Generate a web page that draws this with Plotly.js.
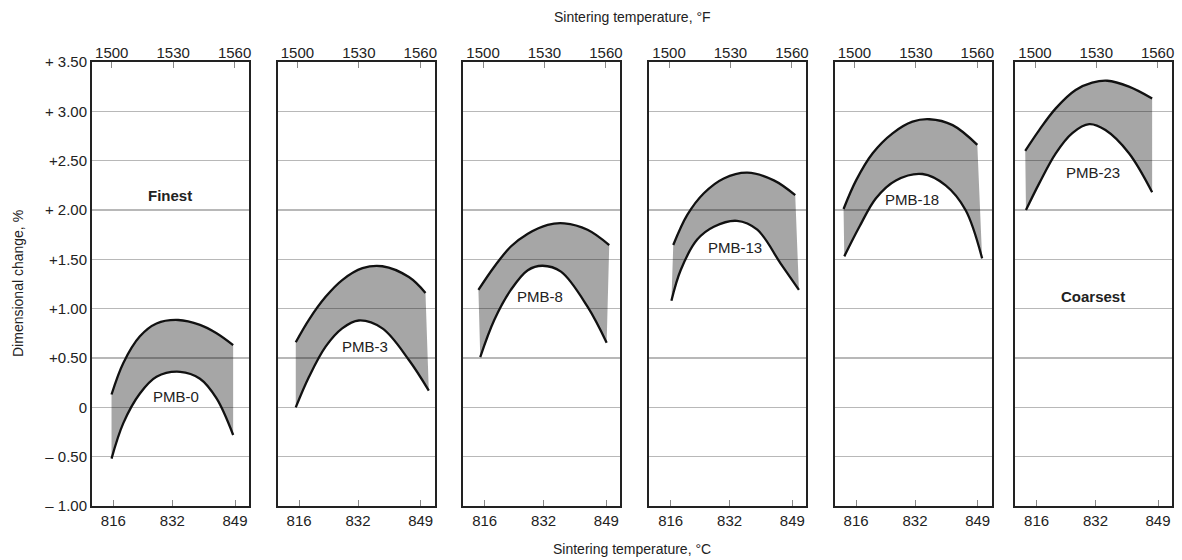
<!DOCTYPE html>
<html>
<head>
<meta charset="utf-8">
<script src="https://cdn.plot.ly/plotly-3.0.1.min.js"></script>
<style>html,body{margin:0;padding:0;background:#fff;}#chart{width:1182px;height:560px;}</style>
</head>
<body>
<div id="chart"></div>
<script>
// ---- data (temperature in °C, dimensional change in %) ----
const grades = ["PMB-0", "PMB-3", "PMB-8", "PMB-13", "PMB-18", "PMB-23"];

const pmb0UpperC = [815.5, 818.7, 823.2, 827.7, 833.6, 839.5, 844.0, 848.5];
const pmb0UpperV = [0.13, 0.45, 0.72, 0.85, 0.885, 0.835, 0.75, 0.63];
const pmb0LowerC = [815.5, 818.7, 823.2, 827.7, 834.1, 839.5, 844.0, 848.5];
const pmb0LowerV = [-0.52, -0.16, 0.14, 0.31, 0.36, 0.29, 0.09, -0.28];

const pmb3UpperC = [815.1, 818.7, 823.2, 827.7, 833.2, 838.6, 845.8, 850.3];
const pmb3UpperV = [0.66, 0.89, 1.12, 1.29, 1.41, 1.43, 1.32, 1.16];
const pmb3LowerC = [815.1, 818.7, 823.2, 827.7, 832.2, 838.6, 845.8, 851.2];
const pmb3LowerV = [0.0, 0.31, 0.615, 0.80, 0.88, 0.80, 0.48, 0.17];

const pmb8UpperC = [814.3, 818.6, 823.1, 827.7, 833.1, 837.6, 843.9, 849.8];
const pmb8UpperV = [1.19, 1.425, 1.63, 1.76, 1.85, 1.865, 1.80, 1.645];
const pmb8LowerC = [814.8, 818.6, 823.1, 827.7, 831.7, 836.7, 843.9, 849.1];
const pmb8LowerV = [0.51, 0.885, 1.19, 1.39, 1.435, 1.375, 1.02, 0.655];

const pmb13UpperC = [816.7, 820.5, 825.0, 830.4, 836.8, 844.0, 849.8];
const pmb13UpperV = [1.645, 1.95, 2.17, 2.32, 2.378, 2.30, 2.15];
const pmb13LowerC = [816.2, 818.7, 823.2, 827.7, 834.0, 839.5, 845.8, 850.8];
const pmb13LowerV = [1.08, 1.39, 1.70, 1.83, 1.89, 1.80, 1.46, 1.19];

const pmb18UpperC = [812.6, 816.0, 820.5, 825.9, 831.3, 835.9, 842.2, 848.9];
const pmb18UpperV = [2.01, 2.30, 2.575, 2.777, 2.895, 2.92, 2.86, 2.66];
const pmb18LowerC = [812.8, 816.9, 821.4, 826.8, 834.0, 840.3, 845.7, 850.2];
const pmb18LowerV = [1.53, 1.83, 2.12, 2.30, 2.365, 2.25, 2.0, 1.51];

const pmb23UpperC = [812.9, 816.7, 821.2, 826.6, 831.1, 835.2, 841.1, 847.4];
const pmb23UpperV = [2.60, 2.81, 3.03, 3.216, 3.29, 3.31, 3.25, 3.13];
const pmb23LowerC = [813.1, 816.7, 821.2, 825.7, 830.3, 834.7, 841.1, 847.4];
const pmb23LowerV = [2.0, 2.27, 2.575, 2.78, 2.87, 2.81, 2.575, 2.18];

const upperC = [pmb0UpperC, pmb3UpperC, pmb8UpperC, pmb13UpperC, pmb18UpperC, pmb23UpperC];
const upperV = [pmb0UpperV, pmb3UpperV, pmb8UpperV, pmb13UpperV, pmb18UpperV, pmb23UpperV];
const lowerC = [pmb0LowerC, pmb3LowerC, pmb8LowerC, pmb13LowerC, pmb18LowerC, pmb23LowerC];
const lowerV = [pmb0LowerV, pmb3LowerV, pmb8LowerV, pmb13LowerV, pmb18LowerV, pmb23LowerV];

const cTicks = [816, 832, 849];
const fTicks = [1500, 1530, 1560];
const yTicks = [-1.0, -0.5, 0, 0.5, 1.0, 1.5, 2.0, 2.5, 3.0, 3.5];
const yTickText = ["\u2013 1.00", "\u2013 0.50", "0", "+0.50", "+1.00", "+1.50", "+ 2.00", "+2.50", "+ 3.00", "+ 3.50"];

// ---- layout ----
const FONT = "Liberation Sans, Arial, Helvetica, sans-serif";
const cRange = [810.2, 852.8];
const fRange = cRange.map(c => c * 9 / 5 + 32);
const plotLeft = 92, plotW = 1080, panelW = 157;
const panelLeft = [92, 277.7, 463.3, 649.3, 834.7, 1015.3];

const traces = [];
const layout = {
  width: 1182, height: 560,
  margin: {l: 92, r: 10, t: 62, b: 54},
  paper_bgcolor: "#ffffff", plot_bgcolor: "rgba(0,0,0,0)",
  showlegend: false,
  font: {family: FONT, size: 15, color: "#222"},
  annotations: [],
  hovermode: false
};

for (let i = 0; i < 6; i++) {
  const n = i + 1;
  const xa = "x" + n, ya = "y" + n;
  const topN = 7 + i;
  const d0 = (panelLeft[i] - plotLeft) / plotW;
  const d1 = Math.min(1, (panelLeft[i] - plotLeft + panelW) / plotW);

  layout["xaxis" + n] = {
    domain: [d0, d1], range: cRange, anchor: ya,
    tickvals: cTicks, ticktext: cTicks.map(String),
    ticks: "inside", ticklen: 6, tickwidth: 1, tickcolor: "#888",
    showline: true, mirror: true, linecolor: "#222", linewidth: 2,
    showgrid: false, zeroline: false,
    tickfont: {family: FONT, size: 15, color: "#222"}
  };
  layout["xaxis" + topN] = {
    overlaying: xa, side: "top", anchor: ya, range: fRange,
    tickvals: fTicks, ticktext: fTicks.map(String),
    ticks: "inside", ticklen: 6, tickwidth: 1, tickcolor: "#888",
    showline: false, showgrid: false, zeroline: false,
    tickfont: {family: FONT, size: 15, color: "#222"}
  };
  layout["yaxis" + n] = {
    domain: [0, 1], range: [-1.0, 3.5], anchor: xa,
    tickvals: yTicks, ticktext: yTickText,
    showticklabels: i === 0, ticks: "",
    showline: true, mirror: true, linecolor: "#222", linewidth: 2,
    showgrid: true, gridcolor: "#b8b8b8", gridwidth: 1.6, zeroline: false,
    tickfont: {family: FONT, size: 15, color: "#222"}
  };

  traces.push({
    x: lowerC[i], y: lowerV[i], xaxis: xa, yaxis: ya, type: "scatter", mode: "lines",
    line: {color: "#111", width: 2.3, shape: "spline", smoothing: 1}, name: grades[i] + " low"
  });
  traces.push({
    x: upperC[i], y: upperV[i], xaxis: xa, yaxis: ya, type: "scatter", mode: "lines",
    line: {color: "#111", width: 2.3, shape: "spline", smoothing: 1},
    fill: "tonexty", fillcolor: "rgba(0,0,0,0.35)", name: grades[i] + " high"
  });
  // invisible trace so the top (°F) axis is drawn
  traces.push({
    x: fRange, y: [null, null], xaxis: "x" + topN, yaxis: ya, type: "scatter", mode: "lines",
    showlegend: false, hoverinfo: "skip"
  });
}

const labelPos = [[833.0, 0.105], [834.0, 0.62], [831.0, 1.12], [833.5, 1.615], [831.1, 2.11], [831.3, 2.385]];
grades.forEach((g, i) => {
  layout.annotations.push({
    text: g, x: labelPos[i][0], y: labelPos[i][1], xref: "x" + (i + 1), yref: "y" + (i + 1),
    showarrow: false, font: {family: FONT, size: 15, color: "#222"}
  });
});
layout.annotations.push({text: "<b>Finest</b>", x: 831.3, y: 2.15, xref: "x1", yref: "y1",
  showarrow: false, font: {family: FONT, size: 15, color: "#222"}});
layout.annotations.push({text: "<b>Coarsest</b>", x: 831.3, y: 1.12, xref: "x6", yref: "y6",
  showarrow: false, font: {family: FONT, size: 15, color: "#222"}});

layout.annotations.push({text: "Sintering temperature, \u00b0F", xref: "paper", yref: "paper",
  x: 0.5, y: 1, yshift: 45, xanchor: "center", yanchor: "middle", showarrow: false,
  font: {family: FONT, size: 14, color: "#222"}});
layout.annotations.push({text: "Sintering temperature, \u00b0C", xref: "paper", yref: "paper",
  x: 0.5, y: 0, yshift: -43, xanchor: "center", yanchor: "middle", showarrow: false,
  font: {family: FONT, size: 14, color: "#222"}});
layout.annotations.push({text: "Dimensional change, %", xref: "paper", yref: "paper",
  x: 0, xshift: -74, y: 0.5, xanchor: "center", yanchor: "middle", textangle: -90, showarrow: false,
  font: {family: FONT, size: 14, color: "#222"}});

Plotly.newPlot("chart", traces, layout, {displayModeBar: false, staticPlot: true});
</script>
</body>
</html>
